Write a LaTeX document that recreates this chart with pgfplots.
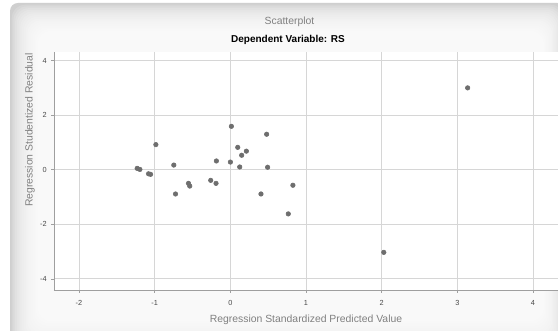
\documentclass[border=0pt]{standalone}
\usepackage{fontspec}
\setmainfont{Liberation Sans}
\usepackage{pgfplots}
\pgfplotsset{compat=1.18}
\definecolor{ptc}{HTML}{6E6E6E}
\definecolor{lblc}{HTML}{808080}
\definecolor{tickc}{HTML}{4A4A4A}
\begin{document}
\begin{tikzpicture}
\path[use as bounding box] (0,0) rectangle (418.5pt,248.25pt);
\begin{scope}
\clip (0,0) rectangle (418.5pt,248.25pt);
\fill[white] (0,0) rectangle (418.5pt,248.25pt);
\fill[gray!38, rounded corners=6pt] (7.5pt,-20pt) rectangle (424pt,246pt);
\foreach \k in {1,...,20} {
  \fill[white, opacity=0.15, rounded corners=10pt] ({7.5pt+\k*1.3pt},{-20pt+\k*1.7pt}) rectangle ({424pt-\k*1.0pt},{246pt-\k*1.3pt});
}
\end{scope}
\begin{axis}[
  at={(40.5pt,30.75pt)}, anchor=south west,
  width=378pt, height=178.8pt, scale only axis,
  xmin=-2.33, xmax=4.33, ymin=-4.41, ymax=4.33,
  axis x line*=bottom, axis y line*=left,
  axis line style={gray!75, line width=0.6pt},
  xtick={-2,-1,0,1,2,3,4}, ytick={-4,-2,0,2,4},
  grid=major, major grid style={gray!32, line width=0.5pt},
  tick style={gray!75, line width=0.4pt}, tick align=outside, major tick length=2pt,
  /pgf/number format/assume math mode=true,
  ticklabel style={font=\fontsize{5.5}{6}\selectfont, text=tickc},
  xticklabel style={yshift=-2pt},
  axis background/.style={fill=white},
  clip=false,
]
\addplot[only marks, mark=*, mark size=1.7pt, color=ptc, mark options={draw=ptc, fill=ptc}] coordinates {
(-1.231,0.05) (-1.195,0.01) (-1.081,-0.15) (-1.054,-0.17) (-0.984,0.92)
(-0.747,0.17) (-0.724,-0.89) (-0.553,-0.50) (-0.536,-0.60)
(-0.259,-0.39) (-0.189,-0.50) (-0.184,0.32) (0.001,0.28) (0.014,1.59)
(0.098,0.82) (0.124,0.10) (0.150,0.53) (0.212,0.68) (0.405,-0.89)
(0.480,1.30) (0.493,0.09) (0.766,-1.62) (0.827,-0.57)
(3.136,3.00) (2.028,-3.03)
};
\end{axis}
\node[text=lblc, font=\fontsize{7.8}{9}\selectfont] at ({289.5*0.75pt},{(331-22)*0.75pt}) {Scatterplot};
\node[text=black, font=\bfseries\fontsize{7.5}{9}\selectfont] at ({288*0.75pt},{(331-40)*0.75pt}) {Dependent Variable: RS};
\node[text=lblc, font=\fontsize{7.8}{9}\selectfont] at ({306*0.75pt},{(331-320)*0.75pt}) {Regression Standardized Predicted Value};
\node[text=lblc, font=\fontsize{7.8}{9}\selectfont, rotate=90] at ({30*0.75pt},{(331-130)*0.75pt}) {Regression Studentized Residual};
\end{tikzpicture}
\end{document}
